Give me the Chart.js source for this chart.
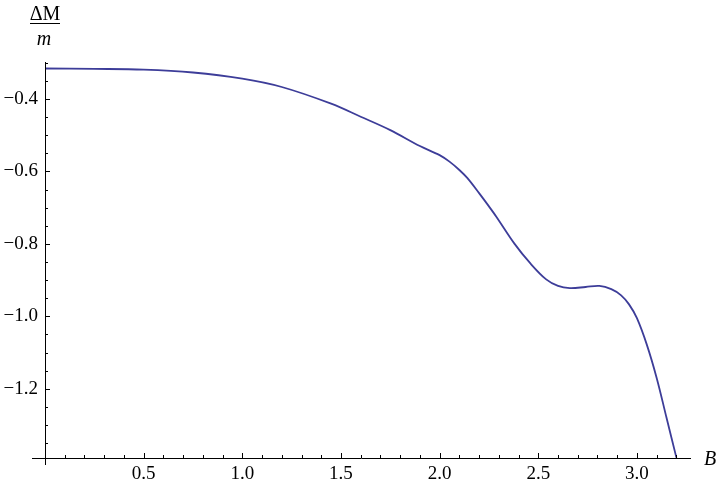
<!DOCTYPE html>
<html>
<head>
<meta charset="utf-8">
<script src="https://cdn.jsdelivr.net/npm/chart.js@4.4.0/dist/chart.umd.min.js"></script>
<style>
  html, body { margin: 0; padding: 0; background: #fff; }
  #wrap { width: 720px; height: 487px; }
</style>
</head>
<body>
<div id="wrap"><canvas id="massChart"></canvas></div>
<script>
// values
const bValues = [0, 0.25, 0.5, 0.75, 1.0, 1.2, 1.45, 1.6, 1.75, 1.9, 2.0, 2.05, 2.1, 2.14, 2.2, 2.26, 2.29, 2.38, 2.46, 2.54, 2.6, 2.66, 2.74, 2.81, 2.87, 2.92, 2.96, 3.0, 3.05, 3.10, 3.15, 3.20];
const deltaM = [-0.316, -0.317, -0.319, -0.327, -0.344, -0.367, -0.413, -0.449, -0.486, -0.53, -0.555, -0.573, -0.596, -0.618, -0.66, -0.704, -0.727, -0.80, -0.854, -0.898, -0.916, -0.922, -0.919, -0.916, -0.925, -0.942, -0.967, -1.005, -1.078, -1.17, -1.28, -1.39];
const xTicks = [0.5, 1.0, 1.5, 2.0, 2.5, 3.0];
const yTicks = [-1.2, -1.0, -0.8, -0.6, -0.4];

const serif = "'Liberation Serif', 'DejaVu Serif', serif";

document.addEventListener('DOMContentLoaded', function () {
    const ctx = document.getElementById('massChart').getContext('2d');

    // Mathematica style axes: lines crossing at the origin, ticks pointing inward
    const axesPlugin = {
        id: 'mmaAxes',
        afterDraw(chart) {
            const c = chart.ctx;
            const xs = chart.scales.x, ys = chart.scales.y;
            const x0 = xs.getPixelForValue(0);
            const yb = ys.getPixelForValue(ys.min);
            c.save();
            c.strokeStyle = '#000';
            c.lineWidth = 1;
            c.beginPath();
            c.moveTo(x0 - 13, yb + 0.5); c.lineTo(xs.right, yb + 0.5);
            c.moveTo(x0 + 0.5, ys.top); c.lineTo(x0 + 0.5, yb + 7);
            // x ticks
            for (let i = 1; i * 0.1 <= xs.max; i++) {
                const px = Math.round(xs.getPixelForValue(i * 0.1)) + 0.5;
                const major = i % 5 === 0;
                c.moveTo(px, yb); c.lineTo(px, yb - (major ? 5 : 3));
            }
            // y ticks
            for (let i = 0; ; i++) {
                const v = -1.35 + i * 0.05;
                if (v > ys.max + 1e-6) break;
                const py = Math.round(ys.getPixelForValue(v)) + 0.5;
                const major = Math.round(v * 20) % 4 === 0;
                c.moveTo(x0, py); c.lineTo(x0 + (major ? 5 : 3), py);
            }
            c.stroke();

            // axis labels
            c.fillStyle = '#000';
            c.textAlign = 'center';
            c.textBaseline = 'alphabetic';
            c.font = '20px ' + serif;
            c.fillText('ΔM', 45, 20);
            c.beginPath();
            c.moveTo(30, 23.5); c.lineTo(60, 23.5);
            c.stroke();
            c.font = 'italic 20px ' + serif;
            c.fillText('m', 44, 45);
            c.textAlign = 'left';
            c.fillText('B', 704, 465);
            c.restore();
        }
    };

    const fmt = function (v) {
        const s = Math.abs(v).toFixed(1);
        return v < 0 ? '\u2212' + s : s;
    };

    new Chart(ctx, {
        type: 'line',
        data: {
            datasets: [{
                data: bValues.map((b, i) => ({ x: b, y: deltaM[i] })),
                borderColor: '#3d3d99',
                borderWidth: 1.8,
                pointRadius: 0,
                fill: false,
                tension: 0.35,
                clip: false
            }]
        },
        options: {
            responsive: true,
            maintainAspectRatio: false,
            animation: false,
            layout: { padding: { top: 62, right: 29, left: 0, bottom: 0 } },
            plugins: { legend: { display: false }, tooltip: { enabled: false } },
            scales: {
                x: {
                    type: 'linear',
                    min: 0,
                    max: 3.274,
                    afterFit(s) { s.height = 29; },
                    afterBuildTicks(s) { s.ticks = xTicks.map(v => ({ value: v })); },
                    grid: { display: false, drawTicks: false },
                    border: { display: false },
                    ticks: {
                        padding: 5,
                        color: '#000',
                        maxRotation: 0,
                        font: { family: serif, size: 19 },
                        callback: fmt
                    }
                },
                y: {
                    type: 'linear',
                    min: -1.391,
                    max: -0.298,
                    afterFit(s) { s.width = 45; },
                    afterBuildTicks(s) { s.ticks = yTicks.map(v => ({ value: v })); },
                    grid: { display: false, drawTicks: false },
                    border: { display: false },
                    ticks: {
                        padding: 7,
                        color: '#000',
                        font: { family: serif, size: 19 },
                        callback: fmt
                    }
                }
            }
        },
        plugins: [axesPlugin]
    });
});
</script>
</body>
</html>
